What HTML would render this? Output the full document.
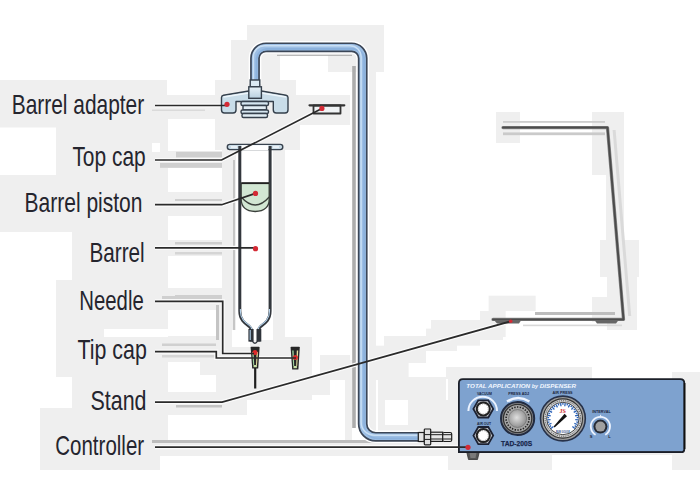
<!DOCTYPE html>
<html><head><meta charset="utf-8">
<style>
html,body{margin:0;padding:0;background:#fff;width:700px;height:500px;overflow:hidden}
svg{display:block}
.lbl{font-family:"Liberation Sans",sans-serif;font-size:28px;fill:#25252e}
</style></head><body>
<svg width="700" height="500" viewBox="0 0 700 500">
<defs>
<linearGradient id="tubeV" x1="0" x2="1" y1="0" y2="0">
<stop offset="0" stop-color="#d6e8f8"/><stop offset="0.5" stop-color="#b3cfea"/><stop offset="1" stop-color="#98b9dc"/>
</linearGradient>
<linearGradient id="metal" x1="0" x2="0" y1="0" y2="1">
<stop offset="0" stop-color="#e8f2f8"/><stop offset="1" stop-color="#b8d0e0"/>
</linearGradient>
<radialGradient id="knobG" cx="0.45" cy="0.45" r="0.6">
<stop offset="0" stop-color="#e0e0e0"/><stop offset="1" stop-color="#8a8a8a"/>
</radialGradient>
</defs>
<rect width="700" height="500" fill="#fff"/>
<!-- background gray blocks -->
<g id="bg" fill="#efefef">
<rect x="0" y="80" width="167" height="15"/>
<rect x="0" y="95" width="231" height="24"/>
<rect x="0" y="119" width="56" height="8.5"/>
<rect x="56" y="119" width="112" height="56"/>
<rect x="0" y="175" width="168" height="57"/>
<rect x="72" y="232" width="96" height="48"/>
<rect x="56" y="280" width="112" height="49"/>
<rect x="56" y="329" width="48" height="8"/>
<rect x="56" y="337" width="112" height="40"/>
<rect x="72" y="377" width="96" height="31"/>
<rect x="40" y="408" width="120" height="62"/>
<rect x="160" y="408" width="8" height="48"/>
<rect x="168" y="151" width="64" height="17"/>
<rect x="224" y="168" width="8" height="24"/>
<rect x="168" y="192" width="64" height="24"/>
<rect x="168" y="240" width="64" height="16"/>
<rect x="168" y="288" width="64" height="22"/>
<rect x="216" y="310" width="16" height="26"/>
<rect x="168" y="336" width="64" height="26"/>
<rect x="200" y="362" width="32" height="13"/>
<rect x="168" y="392" width="64" height="23"/>
<rect x="215" y="80" width="81" height="39"/>
<rect x="215" y="119" width="85" height="31"/>
<rect x="231" y="40" width="49" height="40"/>
<rect x="247" y="25" width="137" height="15"/>
<rect x="280" y="40" width="104" height="15"/>
<rect x="328" y="55" width="56" height="17"/>
<rect x="277" y="95" width="73" height="30"/>
<rect x="367" y="72" width="9" height="368"/>
<rect x="222" y="150" width="63" height="195"/>
<rect x="232" y="337" width="80" height="38"/>
<rect x="216" y="375" width="31" height="40"/>
<rect x="245" y="375" width="67" height="25"/>
<rect x="320" y="355" width="30" height="20"/>
<rect x="345" y="360" width="7" height="81"/>
<rect x="378" y="385" width="22" height="13"/>
<rect x="378" y="398" width="7" height="42"/>
<rect x="408" y="400" width="40" height="40"/>
<rect x="385" y="425" width="63" height="15"/>
<rect x="168" y="440" width="280" height="16"/>
<rect x="448" y="379" width="252" height="76"/>
<rect x="446" y="367" width="146" height="12"/>
<rect x="672" y="372" width="28" height="7"/>
<rect x="448" y="455" width="104" height="15"/>
<rect x="672" y="455" width="28" height="15"/>
<rect x="384" y="336" width="42" height="27"/>
<rect x="426" y="328.6" width="31" height="22.399999999999977"/>
<rect x="431" y="320" width="49" height="25.69999999999999"/>
<rect x="480" y="311" width="25.69999999999999" height="26"/>
<rect x="488.6" y="295.7" width="47.10000000000002" height="15.300000000000011"/>
<rect x="371" y="345.7" width="13" height="17.30000000000001"/>
<rect x="377" y="360" width="31.600000000000023" height="17"/>
<rect x="378" y="377" width="68" height="23"/>
<rect x="480" y="314" width="23" height="26"/>
<rect x="592" y="112" width="32" height="63"/>
<rect x="606" y="175" width="18" height="65"/>
<rect x="600" y="240" width="39" height="37"/>
<rect x="607" y="277" width="30" height="53"/>
<rect x="592" y="297" width="22" height="25"/>
<rect x="496" y="112" width="24" height="31"/>
<rect x="270" y="375" width="60" height="20"/>
<rect x="330" y="360" width="70" height="20"/>
<rect x="236" y="150" width="37" height="190" fill="#fff"/>
<rect x="152" y="143" width="8" height="9" fill="#fff"/>
<rect x="232" y="330" width="18" height="17" fill="#fff"/>
<rect x="352.2" y="66" width="3.6" height="362" fill="#adadad"/>
<rect x="277" y="54.8" width="75" height="1.0" fill="#a8a8a8"/>
<rect x="176" y="151.8" width="46" height="5.6" fill="#cfcfcf"/>
<rect x="160" y="163" width="62" height="4.8" fill="#cfcfcf"/>
<rect x="503" y="132.4" width="102" height="2.8" fill="#cacaca"/>
<rect x="503" y="121" width="102" height="1.8" fill="#cdcdcd"/>
<rect x="152" y="440" width="266" height="3" fill="#bdbdbd"/>
<rect x="535" y="312" width="80" height="3" fill="#bdbdbd"/>
<rect x="523" y="324.6" width="99" height="1.6" fill="#d8d8d8"/>
<rect x="176" y="405" width="46" height="2.5" fill="#c4c4c4"/>
<rect x="175" y="199" width="47" height="2" fill="#cfcfcf"/>
<rect x="175" y="242" width="47" height="2.5" fill="#cfcfcf"/>
<rect x="175" y="252" width="47" height="2.5" fill="#d5d5d5"/>
<rect x="175" y="295" width="47" height="2.5" fill="#cfcfcf"/>
<rect x="162" y="355" width="54" height="2.5" fill="#d6d6d6"/>
<rect x="162" y="343.5" width="54" height="2.5" fill="#d0d0d0"/>
<rect x="152" y="109.5" width="53" height="1.5" fill="#dadada"/>
<rect x="233" y="160" width="2" height="170" fill="#c6c6c6"/>
<rect x="216" y="305" width="3" height="35" fill="#c4c4c4"/>
<rect x="162" y="296" width="60" height="3" fill="#cfcfcf"/>
<path d="M612.6,130 L615.6,130 L631.2,316 L628.2,316 Z" fill="#dadada"/>
</g>

<!-- halo -->
<g fill="none" stroke="#fbfbfb" stroke-width="4.2">
<path d="M155,105.5 H227"/>
<path d="M155,160 H221.6 L321.9,108.4"/>
<path d="M155,204.7 H221.7 L255.5,193.4"/>
<path d="M155,247.8 H255.5"/>
<path d="M155,301.4 H222.7 V353.5 H254"/>
<path d="M155,351.7 H216.3 V358 H296"/>
<path d="M155,402.1 H222.1 L510.7,321.3"/>
<path d="M155,447.2 H468"/>
</g>
<!-- labels -->
<g class="lbl">
<text x="11.7" y="113.6" textLength="132.5" lengthAdjust="spacingAndGlyphs">Barrel adapter</text>
<text x="72.4" y="165.7" textLength="73.3" lengthAdjust="spacingAndGlyphs">Top cap</text>
<text x="24.5" y="211.6" textLength="118" lengthAdjust="spacingAndGlyphs">Barrel piston</text>
<text x="89.4" y="261.8" textLength="55.3" lengthAdjust="spacingAndGlyphs">Barrel</text>
<text x="79.3" y="309.6" textLength="64.4" lengthAdjust="spacingAndGlyphs">Needle</text>
<text x="77.5" y="358.5" textLength="69.3" lengthAdjust="spacingAndGlyphs">Tip cap</text>
<text x="90.5" y="409.9" textLength="56" lengthAdjust="spacingAndGlyphs">Stand</text>
<text x="55.3" y="455" textLength="88.8" lengthAdjust="spacingAndGlyphs">Controller</text>
</g>

<!-- stand -->
<g>
<path d="M503,127.6 H607.5 L623.5,319.4 H493" fill="none" stroke="#8a8a8a" stroke-width="3.3" stroke-linejoin="round" stroke-linecap="round"/>
<path d="M503,127.6 H607.5 L623.5,319.4 H493" fill="none" stroke="#4c4c4c" stroke-width="2" stroke-linejoin="round" stroke-linecap="round"/>
<path d="M494,320 H521.4 L519,323.5 H497 Z" fill="#666"/>
<path d="M594.6,320 H618.6 L616,323.5 H597 Z" fill="#666"/>
</g>

<!-- pipe -->
<path d="M255,84 V58.3 A11,11 0 0 1 266,47.3 H351.7 A11,11 0 0 1 362.7,58.3 V423.8 A13,13 0 0 0 375.7,436.8 H419" fill="none" stroke="#fff" stroke-width="12.6"/>
<path d="M255,84 V58.3 A11,11 0 0 1 266,47.3 H351.7 A11,11 0 0 1 362.7,58.3 V423.8 A13,13 0 0 0 375.7,436.8 H419" fill="none" stroke="#3b4657" stroke-width="9.8"/>
<path d="M255,84 V58.3 A11,11 0 0 1 266,47.3 H351.7 A11,11 0 0 1 362.7,58.3 V423.8 A13,13 0 0 0 375.7,436.8 H419" fill="none" stroke="#9dbfe5" stroke-width="6.4"/>
<path d="M255,84 V58.3 A11,11 0 0 1 266,47.3 H351.7 A11,11 0 0 1 362.7,58.3 V423.8 A13,13 0 0 0 375.7,436.8 H419" transform="translate(1.6 1.6)" fill="none" stroke="#8cb2dd" stroke-width="2"/>
<path d="M255,84 V58.3 A11,11 0 0 1 266,47.3 H351.7 A11,11 0 0 1 362.7,58.3 V423.8 A13,13 0 0 0 375.7,436.8 H419" transform="translate(-1.6 -1.6)" fill="none" stroke="#c9dff4" stroke-width="1.5"/>




<!-- barrel adapter -->
<g stroke="#35404c" stroke-width="1.4" stroke-linejoin="round">
<path d="M221.5,97.5 Q221.5,95.6 223.5,95.2 L248.8,91 H261.4 L286,95.2 Q288,95.6 288,97.5 V110 Q288,113 285,113 H276.3 Q273.3,113 273.3,110 V101.5 H236 V110 Q236,113 233,113 H224.5 Q221.5,113 221.5,110 Z" fill="#c9dde9"/>
<rect x="241" y="101.5" width="27.5" height="4" rx="1.5" fill="#d5e6f0"/>
<rect x="243" y="105.5" width="23.5" height="4.5" rx="1" fill="#e2eef5"/>
<rect x="241" y="110" width="27.5" height="3.5" rx="1.5" fill="#d5e6f0"/>
<rect x="242" y="113.5" width="25.5" height="4" rx="1.5" fill="#e2eef5"/>
</g>
<path d="M223.5,97 L248.8,93 M261.4,93 L286,97" stroke="#eef6fb" stroke-width="1.5" fill="none"/>
<g stroke="#35404c" stroke-width="1.4">
<rect x="250.2" y="80" width="9.6" height="6.8" fill="#dcebf4"/>
<rect x="248.8" y="86.8" width="12.6" height="11.5" fill="url(#metal)"/>
</g>

<!-- top cap -->
<g stroke="#333" stroke-linejoin="round">
<rect x="313.5" y="105.5" width="27" height="8" fill="#f0f3f5" stroke-width="1.8"/>
<path d="M309.5,105.3 H344.3" stroke-width="2.2" stroke-linecap="round"/>
</g>

<!-- syringe flange -->
<rect x="227.3" y="144.4" width="55.5" height="5.2" rx="2.5" fill="#c9dbe6" stroke="#39434f" stroke-width="1.4"/>
<path d="M231,147 H237 M273,147 H279" stroke="#f3f8fb" stroke-width="1.4"/>
<rect x="241.4" y="145.2" width="27" height="5" fill="#fff"/>
<!-- barrel -->
<path d="M239.8,146 V311 C239.8,319.5 244.5,323 249,326.2 C251,327.8 251.2,329 251.2,331 V341.5 M270.1,146 V311 C270.1,319.5 265.5,323 261,326.2 C259,327.8 258.8,329 258.8,331 V341.5" fill="none" stroke="#33373d" stroke-width="3"/>
<rect x="248.4" y="329" width="5.2" height="12.6" fill="#2f343b"/>
<rect x="256.5" y="329" width="4.8" height="12.6" fill="#2f343b"/>
<path d="M252.3,341 Q254.9,345.5 257.6,341" fill="none" stroke="#2f343b" stroke-width="1.4"/>
<path d="M240.4,309 V311.5 C240.4,319 245.2,322.5 249.6,325.6 C251,326.6 251.6,327.6 251.6,329" fill="none" stroke="#b5d3ec" stroke-width="1.1"/>
<path d="M269.5,309 V311.5 C269.5,319 264.8,322.5 260.4,325.6 C259,326.6 258.4,327.6 258.4,329" fill="none" stroke="#b5d3ec" stroke-width="1.1"/>
<rect x="249.6" y="330" width="1.2" height="10" fill="#a9c6df"/>
<!-- piston -->
<path d="M241.2,183.2 H269.2 V199 Q269.2,211 255.2,211.5 Q241.2,211 241.2,199 Z" fill="#d2e7d3" stroke="#3a3f3a" stroke-width="1.3"/>
<path d="M241.2,197 Q255.2,213 269.2,197" fill="none" stroke="#3a3f3a" stroke-width="1.3"/>
<path d="M241.4,183.2 H269" stroke="#222" stroke-width="1.8"/>

<!-- needle hub -->
<path d="M250.6,347.4 Q250.6,346.8 251.4,346.8 H258.8 Q259.6,346.8 259.6,347.4 L258.2,368.6 H252.2 Z" fill="#262626"/>
<path d="M252.2,352 L253.2,365 H254.2 L253.6,352 Z" fill="#9fd3a0"/>
<path d="M258,352 L257,365 H256 L256.6,352 Z" fill="#e6dfa0"/>
<rect x="253.5" y="365" width="3.4" height="2.2" fill="#c8e0a8"/>
<circle cx="255" cy="352.6" r="2.5" fill="#dc2a2a"/>
<rect x="254.1" y="368" width="2.2" height="20.5" fill="#1e1e1e"/>
<!-- tip cap -->
<path d="M290.6,347.4 Q290.6,346.8 291.4,346.8 H299 Q299.8,346.8 299.8,347.4 L298.4,369.4 H292.2 Z" fill="#262626"/>
<path d="M292.2,350.5 L293.2,366 H294.2 L293.6,350.5 Z" fill="#9fd3a0"/>
<path d="M298.2,350.5 L297.2,366 H296.2 L296.8,350.5 Z" fill="#e6dfa0"/>
<rect x="293.5" y="366" width="3.4" height="2.2" fill="#c8e0a8"/>
<circle cx="295.4" cy="357.6" r="2.5" fill="#dc2a2a"/>

<!-- connector -->
<g stroke="#1e1e1e" stroke-width="1.2">
<rect x="418.3" y="432.5" width="6" height="9" fill="#e4e4e4"/>
<rect x="424.3" y="429" width="6.4" height="15.9" rx="0.8" fill="#e0e0e0"/>
<rect x="430.7" y="432.2" width="12" height="9.2" fill="#e8e8e8"/>
<rect x="442.7" y="432.5" width="9" height="9" rx="1.5" fill="#e4e4e4"/>
<path d="M424.3,434.6 H430.7 M424.3,439.4 H430.7 M430.7,434.7 H451.7 M430.7,439 H451.7" fill="none" stroke-width="1"/>
</g>


<!-- controller -->
<path d="M466.5,451 H479.5 L477.5,459.5 H468.5 Z" fill="#555" stroke="#333" stroke-width="0.8"/>
<path d="M469.5,452.5 H476.5 L475.5,458 H470.5 Z" fill="#7a7a7a"/>
<path d="M458.9,383.2 Q458.9,379.2 462.9,379.2 H680.3 Q684.3,379.2 684.3,383.2 V449.2 Q684.3,452.2 681.3,452.2 H458.9 Z" fill="#7ea2cf" stroke="#1b1f28" stroke-width="1.8"/>
<path d="M684.6,383 V449" stroke="#111" stroke-width="1.6"/>
<path d="M459,452 H681" stroke="#1b1f28" stroke-width="1.2"/>
<text x="466.3" y="388.3" font-family="Liberation Sans" font-weight="bold" font-style="italic" font-size="5.9" fill="#f4f8ff" textLength="109.8" lengthAdjust="spacingAndGlyphs">TOTAL APPLICATION <tspan font-size="5">by</tspan> DISPENSER</text>
<g font-family="Liberation Sans" font-weight="bold" fill="#1c2640" text-anchor="middle">
<text x="484.5" y="394.5" font-size="4" textLength="15" lengthAdjust="spacingAndGlyphs">VACUUM</text>
<text x="484" y="424.5" font-size="4" textLength="14" lengthAdjust="spacingAndGlyphs">AIR OUT</text>
<text x="518.7" y="394.5" font-size="4" textLength="21" lengthAdjust="spacingAndGlyphs">PRESS ADJ</text>
<text x="562.6" y="394.2" font-size="4" textLength="20" lengthAdjust="spacingAndGlyphs">AIR PRESS</text>
<text x="601.5" y="413" font-size="4" textLength="18.5" lengthAdjust="spacingAndGlyphs">INTERVAL</text>
<text x="591" y="438" font-size="4">S</text>
<text x="609.6" y="438" font-size="4">L</text>
<text x="516.6" y="446.2" font-size="8" fill="#17254a" stroke="#17254a" stroke-width="0.25" textLength="31" lengthAdjust="spacingAndGlyphs">TAD-200S</text>
</g>
<!-- arcs -->
<path d="M468.4,411 A14.3,14.3 0 0 1 497,411" fill="none" stroke="#eaf2ff" stroke-width="2"/>
<path d="M507,401.5 Q518.2,394.5 529.4,401.5" fill="none" stroke="#eef4ff" stroke-width="2.6"/>
<!-- hex nuts -->
<g>
<path d="M473.4,408.9 L478.3,400.3 H488.3 L493.2,408.9 L488.3,417.5 H478.3 Z" fill="#c3c6cc" stroke="#1c2233" stroke-width="1.8"/>
<circle cx="483.3" cy="408.9" r="6.5" fill="#fff" stroke="#222" stroke-width="2"/>
<circle cx="483.3" cy="408.9" r="5" fill="none" stroke="#888" stroke-width="0.8" stroke-dasharray="1.2 1.2"/>
<path d="M473.4,435.6 L478.3,427 H488.3 L493.2,435.6 L488.3,444.2 H478.3 Z" fill="#c3c6cc" stroke="#1c2233" stroke-width="1.8"/>
<circle cx="483.3" cy="435.6" r="6.5" fill="#fff" stroke="#222" stroke-width="2"/>
<circle cx="483.3" cy="435.6" r="5" fill="none" stroke="#888" stroke-width="0.8" stroke-dasharray="1.2 1.2"/>
</g>
<!-- big knob -->
<g>
<circle cx="517.6" cy="418.5" r="16.6" fill="#8a8a8a" stroke="#222b40" stroke-width="2"/>
<circle cx="517.6" cy="418.5" r="14.2" fill="#a6a6a6" stroke="#333" stroke-width="1.3"/>
<circle cx="517.6" cy="418.5" r="11.5" fill="none" stroke="#222" stroke-width="1.6" stroke-dasharray="1.4 1.4"/>
<circle cx="517.6" cy="418.5" r="9" fill="url(#knobG)" stroke="#666" stroke-width="0.6"/>
</g>
<!-- gauge -->
<g>
<circle cx="562.9" cy="418.5" r="22.4" fill="#9c9c9c" stroke="#27324a" stroke-width="1.6"/>
<circle cx="562.9" cy="418.5" r="19.6" fill="#d0d0d0" stroke="#333" stroke-width="1.1"/>
<circle cx="562.9" cy="418.5" r="17.8" fill="none" stroke="#444" stroke-width="1" stroke-dasharray="1 1.2"/>
<circle cx="562.9" cy="418.5" r="16.2" fill="#fff" stroke="#333" stroke-width="0.9"/>
<path d="M553.40,426.47 L550.95,428.53 M551.11,425.68 L549.58,426.61 M551.46,423.28 L548.50,424.51 M549.51,421.84 L547.76,422.27 M550.55,419.65 L547.37,419.95 M549.12,417.70 L547.33,417.59 M550.77,415.92 L547.64,415.26 M549.99,413.63 L548.30,412.99 M552.09,412.43 L549.30,410.86 M552.03,410.00 L550.61,408.90 M554.39,409.48 L552.19,407.15 M555.05,407.15 L554.03,405.67 M557.46,407.35 L556.06,404.48 M558.79,405.33 L558.25,403.61 M561.03,406.24 L560.55,403.08 M562.90,404.70 L562.90,402.90 M564.77,406.24 L565.25,403.08 M567.01,405.33 L567.55,403.61 M568.34,407.35 L569.74,404.48 M570.75,407.15 L571.77,405.67 M571.41,409.48 L573.61,407.15 M573.77,410.00 L575.19,408.90 M573.71,412.43 L576.50,410.86 M575.81,413.63 L577.50,412.99 M575.03,415.92 L578.16,415.26 M576.68,417.70 L578.47,417.59 M575.25,419.65 L578.43,419.95 M576.29,421.84 L578.04,422.27 M574.34,423.28 L577.30,424.51 M574.69,425.68 L576.22,426.61 M572.40,426.47 L574.85,428.53" stroke="#2a62b8" stroke-width="1.3" fill="none"/>
<text x="562.6" y="413" font-family="Liberation Serif" font-weight="bold" font-size="6" fill="#d03030" text-anchor="middle">JS</text>
<path d="M567,416.2 L554.6,427.4 L553.6,426.4 L564.6,413.8 Z" fill="#111"/>
<text x="562.9" y="432.6" font-family="Liberation Sans" font-weight="bold" font-size="3.2" fill="#1f4a8a" text-anchor="middle" textLength="14" lengthAdjust="spacingAndGlyphs">BUM GOUGE</text>
</g>
<!-- interval knob -->
<g>
<path d="M595.6,434.7 A9.6,9.6 0 1 1 605.2,434.7" fill="none" stroke="#eef4ff" stroke-width="1.8"/>
<circle cx="600.4" cy="426.6" r="7" fill="#262b36"/>
<circle cx="600.4" cy="426.6" r="5" fill="#a0a0a0"/>
<path d="M600.6,414.8 V417.6" stroke="#eaf2ff" stroke-width="1"/>
</g>

<!-- leader lines -->
<g fill="none" stroke="#2a2a2a" stroke-width="1.7">
<path d="M155,105.5 H227"/>
<path d="M155,160 H221.6 L321.9,108.4"/>
<path d="M155,204.7 H221.7 L255.5,193.4"/>
<path d="M155,247.8 H255.5"/>
<path d="M155,301.4 H222.7 V353.5 H254"/>
<path d="M155,351.7 H216.3 V358 H296"/>
<path d="M155,402.1 H222.1 L510.7,321.3"/>
<path d="M155,447.2 H468"/>
</g>

<!-- red dots -->
<g fill="#d42a35">
<circle cx="227" cy="104.3" r="2.6"/>
<circle cx="321.9" cy="108.4" r="2.6"/>
<circle cx="255.5" cy="193.4" r="2.6"/>
<circle cx="255.5" cy="248.7" r="2.6"/>
<circle cx="510.7" cy="321.3" r="1.8"/>
<circle cx="468" cy="447.3" r="2.6"/>
</g>
</svg>
</body></html>
